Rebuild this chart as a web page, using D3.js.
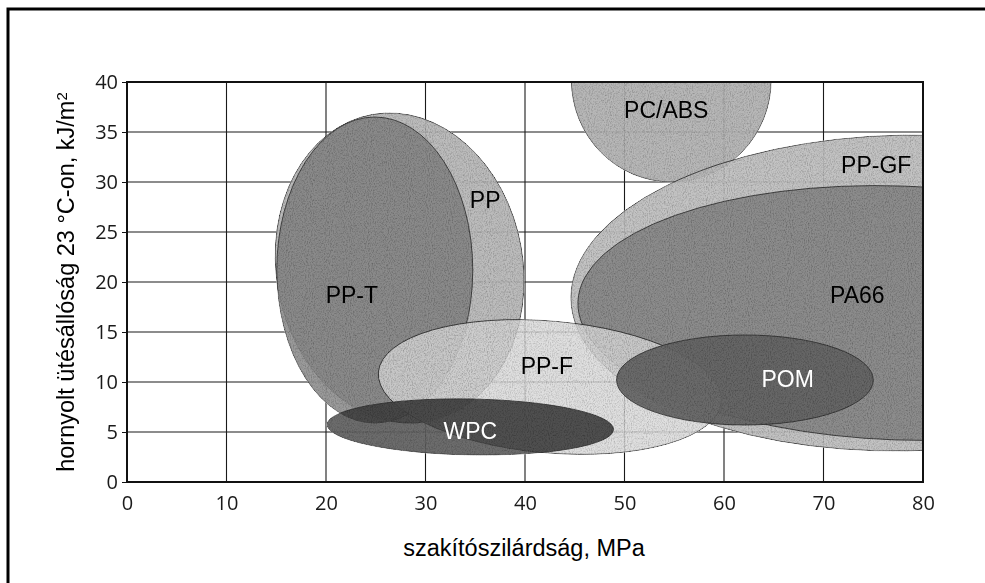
<!DOCTYPE html>
<html>
<head>
    <meta charset="utf-8">
    <script src="https://d3js.org/d3.v7.min.js"></script>
    <style type="text/css">
        body { margin: 0; background: #fff; }
        svg { display: block; }
        .tick text { font-family: "Open Sans", sans-serif; font-size: 20px; fill: #1a1a1a; }
        .title, .tag { font-family: "Liberation Sans", Arial, sans-serif; }
    </style>
</head>
<body>
<script type="text/javascript">
    // material regions: centre and half-spread in data units, tilt in degrees
    var materials      = ["PP", "PP-T", "PC/ABS", "PP-GF", "PA66", "PP-F", "POM", "WPC"];
    var strength       = [27.4, 24.9, 54.7, 78.2, 77.7, 42.5, 62.1, 34.5];
    var impact         = [21.4, 21.2, 40.2, 18.9, 16.9, 9.5, 10.2, 5.5];
    var strengthSpread = [12.4, 9.85, 10.05, 33.6, 32.4, 17.3, 12.9, 14.4];
    var impactSpread   = [15.6, 15.3, 10.2, 15.8, 12.7, 6.6, 4.5, 2.8];
    var tilt           = [-10, 0, 0, -1, 2, 5, 0, 1];

    // label anchor points, data units
    var labelStrength = [36.0, 22.6, 54.2, 75.3, 73.4, 42.2, 66.4, 34.5];
    var labelImpact   = [28.2, 18.7, 37.2, 31.7, 18.7, 11.6, 10.3, 5.1];

    var xTicks = [0, 10, 20, 30, 40, 50, 60, 70, 80];
    var yTicks = [0, 5, 10, 15, 20, 25, 30, 35, 40];

    var shade = {
        "PP": "#afafaf", "PP-T": "#858585", "PC/ABS": "#aaaaaa", "PP-GF": "#b8b8b8",
        "PA66": "#888888", "PP-F": "#d2d2d2", "POM": "#636363", "WPC": "#414141"
    };
    var alpha = { "PP-F": 0.85 };
    var whiteText = { "POM": true, "WPC": true };

    var width = 985, height = 583;
    var plot = { left: 127, right: 923, top: 82, bottom: 482 };

    var x = d3.scaleLinear().domain([0, 80]).range([plot.left, plot.right]);
    var y = d3.scaleLinear().domain([0, 40]).range([plot.bottom, plot.top]);

    var svg = d3.select("body").append("svg")
        .attr("width", width)
        .attr("height", height);

    var defs = svg.append("defs");
    defs.append("clipPath").attr("id", "plotclip")
        .append("rect")
        .attr("x", plot.left).attr("y", plot.top)
        .attr("width", plot.right - plot.left)
        .attr("height", plot.bottom - plot.top);

    // speckled print texture
    var grain = defs.append("filter").attr("id", "grain")
        .attr("x", 0).attr("y", 0).attr("width", 1).attr("height", 1);
    grain.append("feTurbulence")
        .attr("type", "fractalNoise").attr("baseFrequency", "0.95 0.6")
        .attr("numOctaves", 2).attr("seed", 4).attr("result", "noise");
    grain.append("feColorMatrix").attr("in", "noise").attr("type", "matrix")
        .attr("values", "1 0 0 0 0  1 0 0 0 0  1 0 0 0 0  0 0 0 0 1")
        .attr("result", "grey");
    var ct = grain.append("feComponentTransfer").attr("in", "grey").attr("result", "soft");
    ["feFuncR", "feFuncG", "feFuncB"].forEach(function(f) {
        ct.append(f).attr("type", "linear").attr("slope", 1.0).attr("intercept", 0.4);
    });
    grain.append("feBlend").attr("in", "SourceGraphic").attr("in2", "soft")
        .attr("mode", "multiply").attr("result", "mixed");
    grain.append("feComposite").attr("in", "mixed").attr("in2", "SourceGraphic")
        .attr("operator", "in");

    // outer frame
    svg.append("rect")
        .attr("x", 8).attr("y", 9)
        .attr("width", 1200).attr("height", 800)
        .attr("fill", "none")
        .attr("stroke", "#000")
        .attr("stroke-width", 3);

    // grid
    var grid = svg.append("g").attr("stroke", "#1a1a1a").attr("stroke-width", 1.1);
    grid.selectAll("line.v").data(xTicks.slice(1, -1)).enter().append("line")
        .attr("x1", function(d) { return x(d); }).attr("x2", function(d) { return x(d); })
        .attr("y1", plot.top).attr("y2", plot.bottom);
    grid.selectAll("line.h").data(yTicks.slice(1, -1)).enter().append("line")
        .attr("y1", function(d) { return y(d); }).attr("y2", function(d) { return y(d); })
        .attr("x1", plot.left).attr("x2", plot.right);

    // material ellipses
    var regions = materials.map(function(m, i) {
        return {
            name: m,
            cx: x(strength[i]), cy: y(impact[i]),
            rx: x(strength[i] + strengthSpread[i]) - x(strength[i]),
            ry: y(impact[i]) - y(impact[i] + impactSpread[i]),
            tilt: tilt[i]
        };
    });

    var blobs = svg.append("g")
        .attr("clip-path", "url(#plotclip)")
        .append("g")
        .attr("filter", "url(#grain)");

    blobs.selectAll("ellipse").data(regions).enter().append("ellipse")
        .attr("transform", function(d) {
            return "translate(" + d.cx + "," + d.cy + ") rotate(" + d.tilt + ")";
        })
        .attr("rx", function(d) { return d.rx; })
        .attr("ry", function(d) { return d.ry; })
        .attr("fill", function(d) { return shade[d.name]; })
        .attr("fill-opacity", function(d) { return alpha[d.name] || 0.93; })
        .attr("stroke", "#333")
        .attr("stroke-width", 0.9);

    // plot frame
    svg.append("rect")
        .attr("x", plot.left).attr("y", plot.top)
        .attr("width", plot.right - plot.left)
        .attr("height", plot.bottom - plot.top)
        .attr("fill", "none")
        .attr("stroke", "#111")
        .attr("stroke-width", 2);

    // labels
    svg.append("g").selectAll("text").data(materials).enter().append("text")
        .attr("class", "tag")
        .attr("x", function(d, i) { return x(labelStrength[i]); })
        .attr("y", function(d, i) { return y(labelImpact[i]); })
        .attr("dy", "0.36em")
        .attr("text-anchor", "middle")
        .style("font-size", "23px")
        .attr("fill", function(d) { return whiteText[d] ? "#fff" : "#000"; })
        .text(function(d) { return d; });

    // axes
    var xAxis = svg.append("g")
        .attr("transform", "translate(0," + plot.bottom + ")")
        .call(d3.axisBottom(x).tickValues(xTicks).tickSize(0).tickPadding(14));
    xAxis.select(".domain").remove();

    var yAxis = svg.append("g")
        .attr("transform", "translate(" + plot.left + ",0)")
        .call(d3.axisLeft(y).tickValues(yTicks).tickSize(5).tickPadding(4));
    yAxis.select(".domain").remove();
    yAxis.selectAll(".tick line").attr("stroke", "#111");

    svg.append("text")
        .attr("class", "title")
        .attr("x", 524).attr("y", 556)
        .attr("text-anchor", "middle")
        .style("font-size", "23.5px")
        .text("szakítószilárdság, MPa");

    var yt = svg.append("text")
        .attr("class", "title")
        .attr("transform", "translate(74,282) rotate(-90)")
        .attr("text-anchor", "middle")
        .style("font-size", "23.5px");
    yt.append("tspan").text("hornyolt ütésállóság 23 °C-on, kJ/m");
    yt.append("tspan").attr("dy", "-0.45em").style("font-size", "15px").text("2");
</script>
</body>
</html>
